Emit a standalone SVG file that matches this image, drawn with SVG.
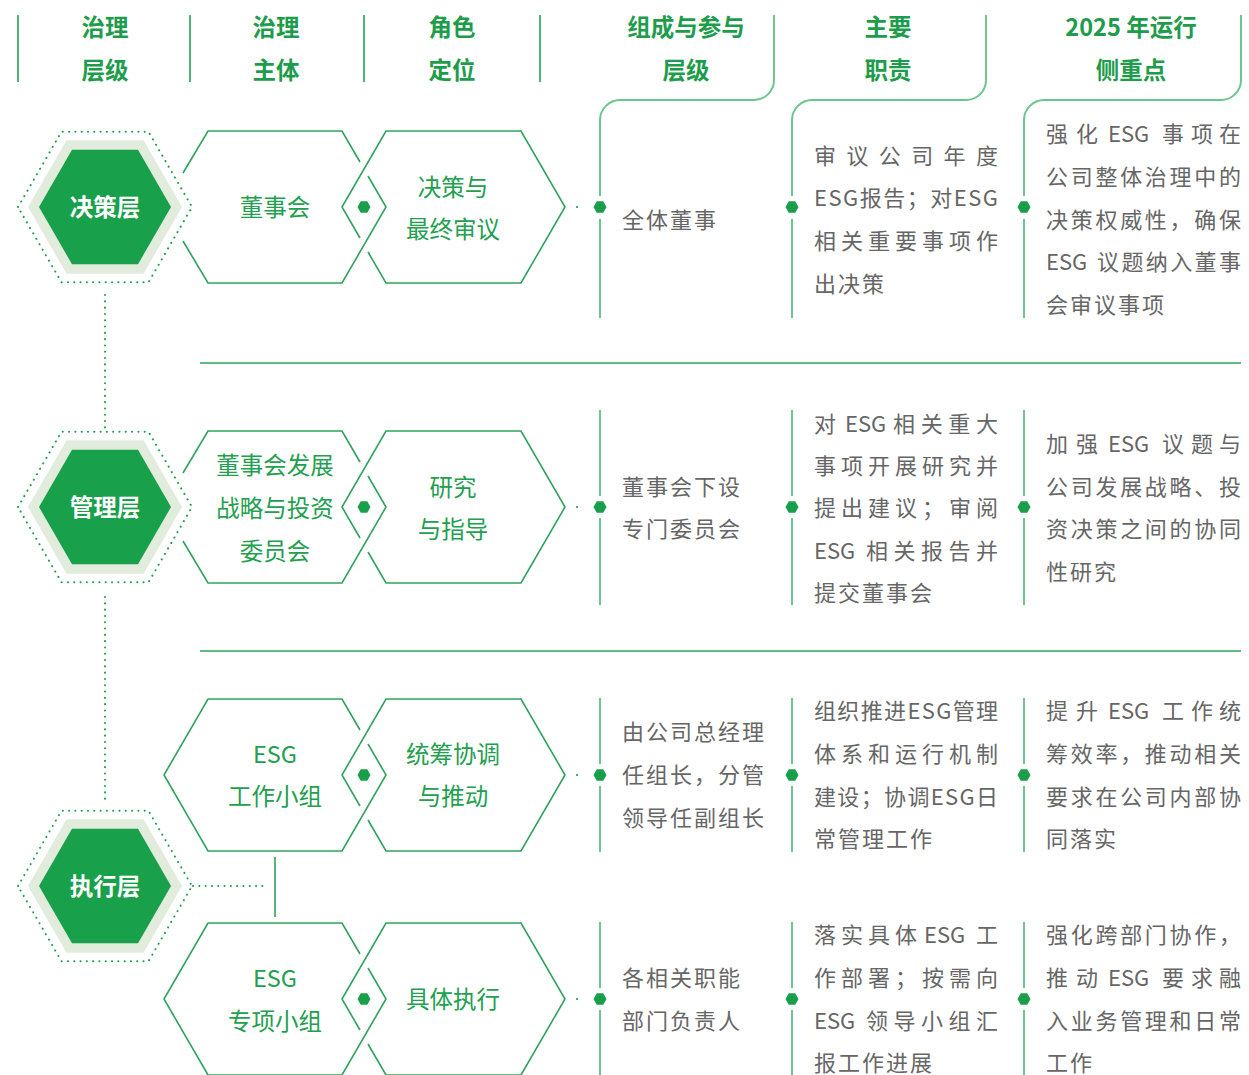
<svg xmlns="http://www.w3.org/2000/svg" width="1249" height="1075" viewBox="0 0 1249 1075">
<style>
text{font-family:"Noto Sans CJK SC","Noto Sans",sans-serif;font-size:22px}
.hd{font-weight:700;fill:#1d9d4b;text-anchor:middle;font-size:23.5px}
.lv{font-weight:700;fill:#fff;text-anchor:middle;font-size:23.5px}
.nd{fill:#22a04f;text-anchor:middle;font-size:23.5px}
.tx{fill:#666;letter-spacing:2px}
.j{letter-spacing:0}
.hl{stroke:#4cb574;stroke-width:2;fill:none}
.cl{stroke:#6cc58e;stroke-width:2;fill:none}
.sep{stroke:#2da55b;stroke-width:1.5;fill:none}
.no{stroke:#2fa35c;stroke-width:1.6;fill:none;stroke-linejoin:miter}
.dt{stroke:#1d9d4b;stroke-width:2;fill:none;stroke-dasharray:0.1 6.2;stroke-linecap:round}
.dk{fill:#19a04b}
.lt{fill:#e1ecdc}
.gd{fill:#1a9e4b}
</style>
<defs>
<path id="hexL" d="M-77,0 L-38.5,-66.7 L38.5,-66.7 L77,0 L38.5,66.7 L-38.5,66.7Z"/>
<path id="hexD" d="M-66,0 L-33,-57.2 L33,-57.2 L66,0 L33,57.2 L-33,57.2Z"/>
<path id="hexO" d="M-87,0 L-43.5,-75.3 L43.5,-75.3 L87,0 L43.5,75.3 L-43.5,75.3Z"/>
<path id="dot" d="M-6.5,0 L-3.3,-5.7 L3.3,-5.7 L6.5,0 L3.3,5.7 L-3.3,5.7Z"/>
<path id="pairCut" d="M183,-34 L208,-76 H342 L360,-45 M368,-31 L386,0 L342,76 H208 L183,34 M360,31 L342,0 L386,-76 H521 L565,0 L521,76 H386 L368,45"/>
<path id="pairFull" d="M360,-45 L342,-76 H208 L164,0 L208,76 H342 L386,0 L368,-31 M360,31 L342,0 L386,-76 H521 L565,0 L521,76 H386 L368,45"/>
</defs>

<g id="header">
<path class="hl" d="M18,15 V82 M190,15 V82 M364,15 V82 M540,15 V82"/>
<text class="hd" x="105" y="36">治理</text><text class="hd" x="105" y="79">层级</text>
<text class="hd" x="276" y="36">治理</text><text class="hd" x="276" y="79">主体</text>
<text class="hd" x="452" y="36">角色</text><text class="hd" x="452" y="79">定位</text>
<text class="hd" x="686" y="36">组成与参与</text><text class="hd" x="686" y="79">层级</text>
<text class="hd" x="888" y="36">主要</text><text class="hd" x="888" y="79">职责</text>
<text class="hd" x="1131" y="36">2025 年运行</text><text class="hd" x="1131" y="79">侧重点</text>
</g>

<g id="columns">
<path class="cl" d="M774,15 V80 A20,20 0 0 1 754,100 H620 A20,20 0 0 0 600,120 V196 M600,219 V318"/>
<path class="cl" d="M986,15 V80 A20,20 0 0 1 966,100 H812 A20,20 0 0 0 792,120 V196 M792,219 V318"/>
<path class="cl" d="M1241,15 V80 A20,20 0 0 1 1221,100 H1044 A20,20 0 0 0 1024,120 V196 M1024,219 V318"/>
<path class="cl" d="M600,410 V496 M600,518 V605 M792,410 V496 M792,518 V605 M1024,410 V496 M1024,518 V605"/>
<path class="cl" d="M600,698 V764 M600,786 V852 M792,698 V764 M792,786 V852 M1024,698 V764 M1024,786 V852"/>
<path class="cl" d="M600,922 V988 M600,1010 V1075 M792,922 V988 M792,1010 V1075 M1024,922 V988 M1024,1010 V1075"/>
<path class="sep" d="M200,363 H1241 M200,651 H1241"/>
</g>

<g id="connectors">
<path class="dt" d="M105,295 V428 M105,597 V802 M193,886 H268"/>
<path class="no" d="M275,857 V917"/>
<path class="dt" d="M577,207 H583 M577,507 H583 M577,775 H583 M577,999 H583"/>
<g class="gd">
<use href="#dot" x="364" y="207"/><use href="#dot" x="600" y="207"/><use href="#dot" x="792" y="207"/><use href="#dot" x="1024" y="207"/>
<use href="#dot" x="364" y="507"/><use href="#dot" x="600" y="507"/><use href="#dot" x="792" y="507"/><use href="#dot" x="1024" y="507"/>
<use href="#dot" x="364" y="775"/><use href="#dot" x="600" y="775"/><use href="#dot" x="792" y="775"/><use href="#dot" x="1024" y="775"/>
<use href="#dot" x="364" y="999"/><use href="#dot" x="600" y="999"/><use href="#dot" x="792" y="999"/><use href="#dot" x="1024" y="999"/>
</g>
</g>

<g id="level-decision" transform="translate(105,207)">
<use href="#hexO" class="dt"/><use href="#hexL" class="lt"/><use href="#hexD" class="dk"/>
<text class="lv" x="0" y="9">决策层</text>
</g>
<g id="level-management" transform="translate(105,507)">
<use href="#hexO" class="dt"/><use href="#hexL" class="lt"/><use href="#hexD" class="dk"/>
<text class="lv" x="0" y="9">管理层</text>
</g>
<g id="level-execution" transform="translate(105,886)">
<use href="#hexO" class="dt"/><use href="#hexL" class="lt"/><use href="#hexD" class="dk"/>
<text class="lv" x="0" y="9">执行层</text>
</g>

<g id="row1-nodes">
<use href="#pairCut" class="no" y="207"/>
<text class="nd" x="275" y="216">董事会</text>
<text class="nd" x="453" y="196">决策与</text>
<text class="nd" x="453" y="238">最终审议</text>
</g>
<g id="row2-nodes">
<use href="#pairCut" class="no" y="507"/>
<text class="nd" x="275" y="474">董事会发展</text>
<text class="nd" x="275" y="517">战略与投资</text>
<text class="nd" x="275" y="560">委员会</text>
<text class="nd" x="453" y="496">研究</text>
<text class="nd" x="453" y="538">与指导</text>
</g>
<g id="row3-nodes">
<use href="#pairFull" class="no" y="775"/>
<text class="nd" x="275" y="763">ESG</text>
<text class="nd" x="275" y="805">工作小组</text>
<text class="nd" x="453" y="763">统筹协调</text>
<text class="nd" x="453" y="805">与推动</text>
</g>
<g id="row4-nodes">
<use href="#pairFull" class="no" y="999"/>
<text class="nd" x="275" y="987">ESG</text>
<text class="nd" x="275" y="1030">专项小组</text>
<text class="nd" x="453" y="1008">具体执行</text>
</g>

<g id="row1-text">
<text class="tx" x="622" y="228">全体董事</text>
<text class="tx j" x="814" y="164" textLength="184" lengthAdjust="spacing">审议公司年度</text>
<text class="tx j" x="814" y="206" textLength="184" lengthAdjust="spacing">ESG报告；对ESG</text>
<text class="tx j" x="814" y="249" textLength="184" lengthAdjust="spacing">相关重要事项作</text>
<text class="tx" x="814" y="292">出决策</text>
<text class="tx j" y="142"><tspan x="1046">强</tspan><tspan x="1076">化</tspan><tspan x="1108">ESG</tspan><tspan x="1162">事</tspan><tspan x="1191">项</tspan><tspan x="1219">在</tspan></text>
<text class="tx j" x="1046" y="185" textLength="195" lengthAdjust="spacing">公司整体治理中的</text>
<text class="tx j" x="1046" y="228" textLength="195" lengthAdjust="spacing">决策权威性，确保</text>
<text class="tx j" y="270"><tspan x="1046">ESG</tspan></text>
<text class="tx j" x="1097" y="270" textLength="144" lengthAdjust="spacing">议题纳入董事</text>
<text class="tx" x="1046" y="313">会审议事项</text>
</g>

<g id="row2-text">
<text class="tx" x="622" y="495">董事会下设</text>
<text class="tx" x="622" y="537">专门委员会</text>
<text class="tx j" y="432"><tspan x="814">对</tspan><tspan x="845">ESG</tspan></text>
<text class="tx j" x="893" y="432" textLength="105" lengthAdjust="spacing">相关重大</text>
<text class="tx j" x="814" y="474" textLength="184" lengthAdjust="spacing">事项开展研究并</text>
<text class="tx j" x="814" y="516" textLength="184" lengthAdjust="spacing">提出建议；审阅</text>
<text class="tx j" x="814" y="559">ESG</text>
<text class="tx j" x="866" y="559" textLength="132" lengthAdjust="spacing">相关报告并</text>
<text class="tx" x="814" y="601">提交董事会</text>
<text class="tx j" y="452"><tspan x="1046">加</tspan><tspan x="1076">强</tspan><tspan x="1108">ESG</tspan><tspan x="1162">议</tspan><tspan x="1191">题</tspan><tspan x="1219">与</tspan></text>
<text class="tx j" x="1046" y="495" textLength="195" lengthAdjust="spacing">公司发展战略、投</text>
<text class="tx j" x="1046" y="537" textLength="195" lengthAdjust="spacing">资决策之间的协同</text>
<text class="tx" x="1046" y="580">性研究</text>
</g>

<g id="row3-text">
<text class="tx" x="622" y="740">由公司总经理</text>
<text class="tx" x="622" y="783">任组长，分管</text>
<text class="tx" x="622" y="826">领导任副组长</text>
<text class="tx j" x="814" y="719" textLength="184" lengthAdjust="spacing">组织推进ESG管理</text>
<text class="tx j" x="814" y="762" textLength="184" lengthAdjust="spacing">体系和运行机制</text>
<text class="tx j" x="814" y="805" textLength="184" lengthAdjust="spacing">建设；协调ESG日</text>
<text class="tx" x="814" y="847">常管理工作</text>
<text class="tx j" y="719"><tspan x="1046">提</tspan><tspan x="1076">升</tspan><tspan x="1108">ESG</tspan><tspan x="1162">工</tspan><tspan x="1191">作</tspan><tspan x="1219">统</tspan></text>
<text class="tx j" x="1046" y="762" textLength="195" lengthAdjust="spacing">筹效率，推动相关</text>
<text class="tx j" x="1046" y="805" textLength="195" lengthAdjust="spacing">要求在公司内部协</text>
<text class="tx" x="1046" y="847">同落实</text>
</g>

<g id="row4-text">
<text class="tx" x="622" y="986">各相关职能</text>
<text class="tx" x="622" y="1029">部门负责人</text>
<text class="tx j" x="814" y="943" textLength="103" lengthAdjust="spacing">落实具体</text>
<text class="tx j" y="943"><tspan x="924">ESG</tspan><tspan x="976">工</tspan></text>
<text class="tx j" x="814" y="986" textLength="184" lengthAdjust="spacing">作部署；按需向</text>
<text class="tx j" x="814" y="1029">ESG</text>
<text class="tx j" x="866" y="1029" textLength="132" lengthAdjust="spacing">领导小组汇</text>
<text class="tx" x="814" y="1071">报工作进展</text>
<text class="tx j" x="1046" y="943" textLength="195" lengthAdjust="spacing">强化跨部门协作，</text>
<text class="tx j" y="986"><tspan x="1046">推</tspan><tspan x="1076">动</tspan><tspan x="1108">ESG</tspan><tspan x="1162">要</tspan><tspan x="1191">求</tspan><tspan x="1219">融</tspan></text>
<text class="tx j" x="1046" y="1029" textLength="195" lengthAdjust="spacing">入业务管理和日常</text>
<text class="tx" x="1046" y="1071">工作</text>
</g>
</svg>
